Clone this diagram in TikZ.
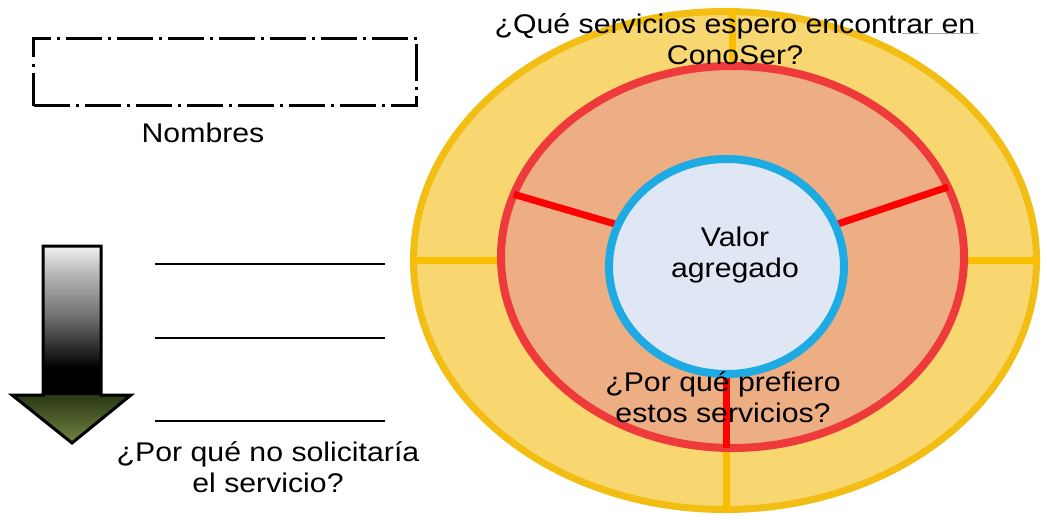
\documentclass[tikz,border=0pt]{standalone}
\usepackage{fontspec}
\setmainfont{Liberation Sans}[FakeStretch=1.12]
\usetikzlibrary{shapes.geometric,calc}
\definecolor{outfill}{RGB}{249,215,112}
\definecolor{outline}{RGB}{242,190,20}
\definecolor{divyel}{RGB}{250,190,0}
\definecolor{redfill}{RGB}{238,174,132}
\definecolor{redline}{RGB}{238,58,58}
\definecolor{spokered}{RGB}{255,0,0}
\definecolor{bluefill}{RGB}{222,231,243}
\definecolor{blueline}{RGB}{30,170,226}
\definecolor{oliveA}{RGB}{44,56,22}
\definecolor{oliveB}{RGB}{112,133,64}
\pgfdeclareverticalshading{shaftshade}{100bp}{color(0bp)=(black); color(25bp)=(black); color(34bp)=(black); color(52bp)=(black!55); color(66bp)=(black!28); color(75bp)=(black!5); color(100bp)=(black!5)}
\tikzset{
  txt/.style={font=\fontsize{27}{31}\selectfont, align=center, inner sep=0pt, text=black},
  ring/.style={ellipse, inner sep=0pt},
  divider/.style={draw=divyel, line width=7pt},
  spoke/.style={draw=spokered, line width=7pt},
  blank/.style={draw=black, line width=1.6pt},
}
\begin{document}
\begin{tikzpicture}[x=1pt,y=-1pt]
\useasboundingbox (0,0) rectangle (1048,519);
% dash-dot box
\node[draw=black, line width=3pt, dash pattern=on 36pt off 6pt on 3pt off 6pt, minimum width=383pt, minimum height=67pt, inner sep=0pt] (namebox) at (225,72) {};
\node[txt] (nombres) at (203,133) {Nombres};
% arrow
\shade[shading=shaftshade] (43,246) rectangle (101,395);
\shade[top color=oliveA, bottom color=oliveB] (12,395) -- (131,395) -- (72,443) -- cycle;
\draw[line width=3pt, line join=miter] (43,246) -- (101,246) -- (101,395) -- (131,395) -- (72,443) -- (12,395) -- (43,395) -- cycle;
% blank lines
\draw[blank] (155,264) -- (385,264);
\draw[blank] (155,338) -- (385,338);
\draw[blank] (155,421) -- (385,421);
\node[txt] (nosol) at (268,467) {¿Por qué no solicitaría\\el servicio?};
% rings
\node[ring, fill=outfill, draw=outline, line width=7pt, minimum width=623pt, minimum height=498pt] (outer) at (725,260.5) {};
\node[ring, minimum width=463pt, minimum height=382pt] (red) at (732.5,257) {};
\node[ring, minimum width=235pt, minimum height=215pt] (blue) at (726.5,266.5) {};
\draw[divider] (outer.west) -- (outer.west -| red.west);
\draw[divider] (outer.east) -- (outer.east -| red.east);
\draw[divider] (red.north |- outer.north) -- (red.north);
\draw[divider] (blue.south |- red.south) -- (blue.south |- outer.south);
\node[ring, fill=redfill, draw=redline, line width=8pt, minimum width=463pt, minimum height=382pt] at (red) {};
\draw[spoke] (blue.159.5) -- (red.164);
\draw[spoke] (blue.21) -- (red.18);
\draw[spoke] (blue.south) -- (blue.south |- red.south);
\node[ring, fill=bluefill, draw=blueline, line width=8pt, minimum width=235pt, minimum height=215pt] at (blue) {};
\node[txt] (valor) at (735,255) {Valor\\agregado};
\node[txt] (prefiero) at (723,397) {¿Por qué prefiero\\estos servicios?};
\node[txt] (espero) at (735,39) {¿Qué servicios espero encontrar en\\ConoSer?};
\draw[gray!70, line width=0.8pt] (902,33) -- (978,33);
\end{tikzpicture}
\end{document}
